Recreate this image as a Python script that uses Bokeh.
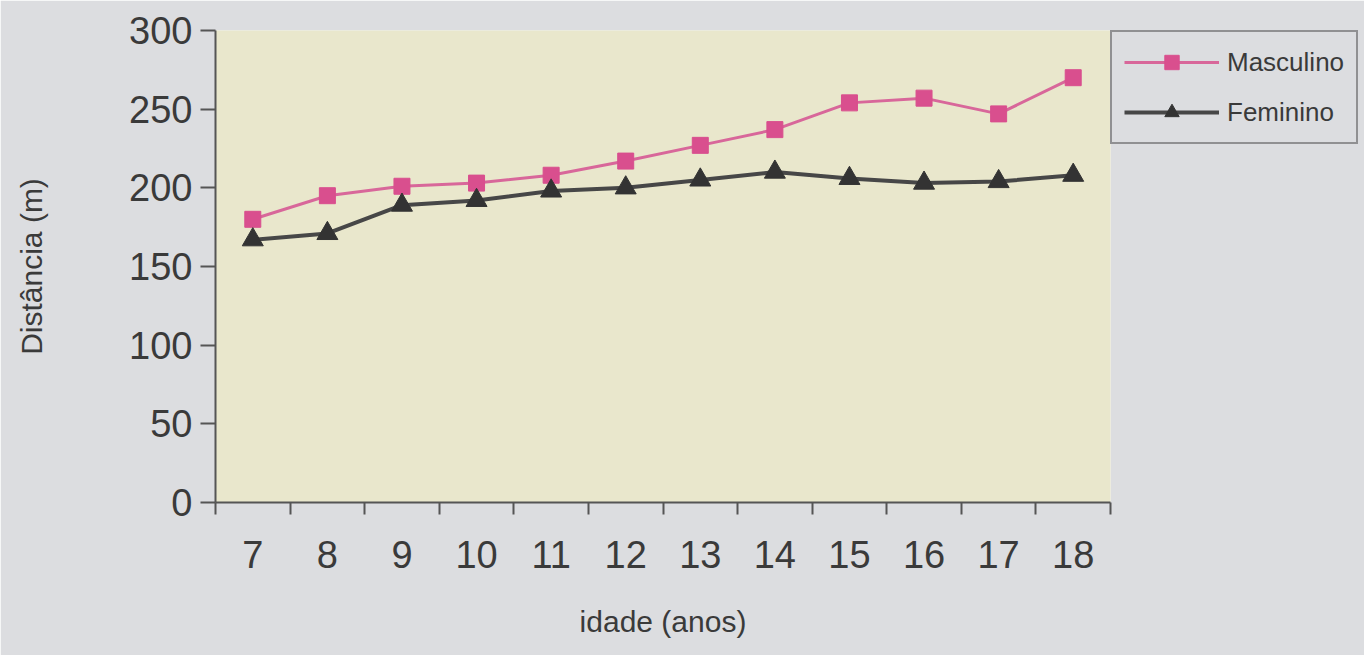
from bokeh.plotting import figure
from bokeh.models import Range1d, FixedTicker, Legend, LegendItem
from bokeh.embed import file_html
from bokeh.resources import INLINE

# Age groups (years) and mean distance (m) per sex
idade = [7, 8, 9, 10, 11, 12, 13, 14, 15, 16, 17, 18]
masculino = [180, 195, 201, 203, 208, 217, 227, 237, 254, 257, 247, 270]
feminino = [167, 171, 189, 192, 198, 200, 205, 210, 206, 203, 204, 208]
y_ticks = [0, 50, 100, 150, 200, 250, 300]

PAGE = "#dcdde0"
PLOT_BG = "#e9e7cc"
TEXT = "#3a3a3a"
AXIS = "#555555"
FONT = "Liberation Sans"

p = figure(
    frame_width=895, frame_height=472,
    x_range=Range1d(idade[0] - 0.5, idade[-1] + 0.5),
    y_range=Range1d(y_ticks[0], y_ticks[-1]),
    output_backend="svg", toolbar_location=None,
    min_border_left=215, min_border_right=254,
    min_border_top=30, min_border_bottom=153,
)
p.background_fill_color = PLOT_BG
p.border_fill_color = PAGE
p.outline_line_color = None
p.grid.visible = False

# x axis: labels at each age, tick marks between the ages
xa = p.xaxis[0]
xa.ticker = FixedTicker(ticks=idade, minor_ticks=[a - 0.5 for a in idade] + [idade[-1] + 0.5])
xa.major_tick_out = 0
xa.major_tick_in = 0
xa.minor_tick_out = 12
xa.minor_tick_in = 0
xa.minor_tick_line_color = AXIS
xa.minor_tick_line_width = 2
xa.major_label_standoff = 26
xa.axis_label = "idade (anos)"
xa.axis_label_standoff = 34

ya = p.yaxis[0]
ya.ticker = FixedTicker(ticks=y_ticks)
ya.minor_tick_line_color = None
ya.major_tick_out = 15
ya.major_tick_in = 0
ya.major_tick_line_width = 2
ya.major_tick_line_color = AXIS
ya.major_label_standoff = 8
ya.axis_label = "Distância (m)"
ya.axis_label_standoff = 78

for ax in (xa, ya):
    ax.axis_line_color = AXIS
    ax.axis_line_width = 2
    ax.major_label_text_font = FONT
    ax.major_label_text_font_size = "38px"
    ax.major_label_text_color = TEXT
    ax.axis_label_text_font = FONT
    ax.axis_label_text_font_style = "normal"
    ax.axis_label_text_color = TEXT
    ax.axis_label_text_font_size = "30px"

m_line = p.line(idade, masculino, line_color="#d8679a", line_width=3)
m_mark = p.scatter(idade, masculino, marker="square", size=16,
                   fill_color="#d94f8e", line_color="#d94f8e")
f_line = p.line(idade, feminino, line_color="#474747", line_width=4)
f_mark = p.scatter(idade, feminino, marker="triangle", size=21,
                   fill_color="#333333", line_color="#333333")

legend = Legend(
    items=[
        LegendItem(label="Masculino", renderers=[m_line, m_mark]),
        LegendItem(label="Feminino", renderers=[f_line, f_mark]),
    ],
    location="top_left",
    margin=0,
    padding=12,
    spacing=14,
    glyph_width=95,
    glyph_height=36,
    label_standoff=8,
    label_text_font=FONT,
    label_text_font_size="26px",
    label_text_color=TEXT,
    background_fill_color=PAGE,
    background_fill_alpha=1,
    border_line_color="#444444",
    border_line_width=2,
)
p.add_layout(legend, "right")

open("out.html", "w").write(file_html(p, INLINE))
